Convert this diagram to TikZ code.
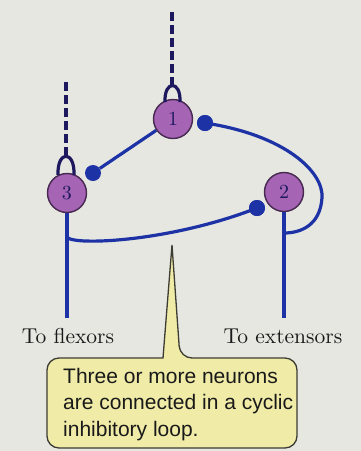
\documentclass[tikz,border=0pt]{standalone}
\usepackage{fontspec}
\newfontfamily\notefont{Liberation Sans}
\newfontfamily\labelfont{lmroman10-regular.otf}
\definecolor{paper}{RGB}{231,231,226}
\definecolor{cellfill}{RGB}{165,100,180}
\definecolor{cellline}{RGB}{70,40,80}
\definecolor{axonblue}{RGB}{28,50,165}
\definecolor{fibre}{RGB}{30,25,95}
\definecolor{notefill}{RGB}{240,236,168}
\definecolor{noteline}{RGB}{60,60,50}
\begin{document}
\begin{tikzpicture}[x=1pt,y=-1pt,
  neuron/.style={circle,draw=cellline,line width=1.4pt,fill=cellfill,minimum size=39pt,inner sep=0pt,
    text=fibre,font=\labelfont\fontsize{20}{20}\selectfont},
  synapse/.style={circle,fill=axonblue,minimum size=16pt,inner sep=0pt},
  axon/.style={draw=axonblue,line width=3.2pt},
  input/.style={draw=fibre,line width=3.2pt,dash pattern=on 9pt off 4pt},
  cup/.style={draw=fibre,line width=3.2pt},
  label/.style={font=\labelfont\fontsize{21.5}{24}\selectfont,text=black!90}]
  \useasboundingbox[fill=paper] (0,0) rectangle (361,451);

  \node[neuron] (n1) at (173,119) {1};
  \node[neuron] (n2) at (284,192) {2};
  \node[neuron] (n3) at (67,193) {3};
  % incoming fibres
  \coordinate (in1) at (172,12);
  \coordinate (top1) at (172,86);
  \coordinate (in3) at (66,82);
  \coordinate (top3) at (66,156);
  \draw[input] (in1) -- (top1);
  \draw[input] (in3) -- (top3);
  \draw[cup] (165,102) .. controls (164,80) and (181,80) .. (180,102);
  \draw[cup] (58,175) .. controls (57,150) and (75,150) .. (74,175);
  % axons
  \coordinate (f3) at (67,318);
  \coordinate (e2) at (284,318);
  \coordinate (j3) at (67,237);
  \coordinate (j2) at (284,233);
  \node[synapse] (s3) at (93,173) {};
  \node[synapse] (s1) at (205,123) {};
  \node[synapse] (s2) at (257,208) {};
  \draw[axon] (n1) -- (s3);
  \draw[axon] (n3.south) -- (f3);
  \draw[axon] (n2.south) -- (e2);
  \draw[axon] (j3) .. controls (72,246) and (170,242) .. (s2.center);
  \draw[axon] (s1.center) .. controls (285,135) and (324,172) .. (322,198)
    .. controls (320,226) and (300,233) .. (j2);
  \node[synapse] at (s1) {};
  \node[synapse] at (s2) {};

  \node[label] (flex) at (68,336) {To flexors};
  \node[label] (ext) at (283,336) {To extensors};

  % note box
  \coordinate (tip) at (172,245);
  \draw[noteline,fill=notefill,line width=1.3pt,rounded corners=12pt]
    (163,358) -- (47,358) -- (47,448) -- (297,448) -- (297,358) -- (180,358)
    [sharp corners] -- (tip) -- cycle;
  \node[anchor=north west,inner sep=0pt,align=left,text=black!90,
    font=\notefont\fontsize{21}{26.5}\selectfont] (note) at (63,368)
    {Three or more neurons\\are connected in a cyclic\\inhibitory loop.};
\end{tikzpicture}
\end{document}
